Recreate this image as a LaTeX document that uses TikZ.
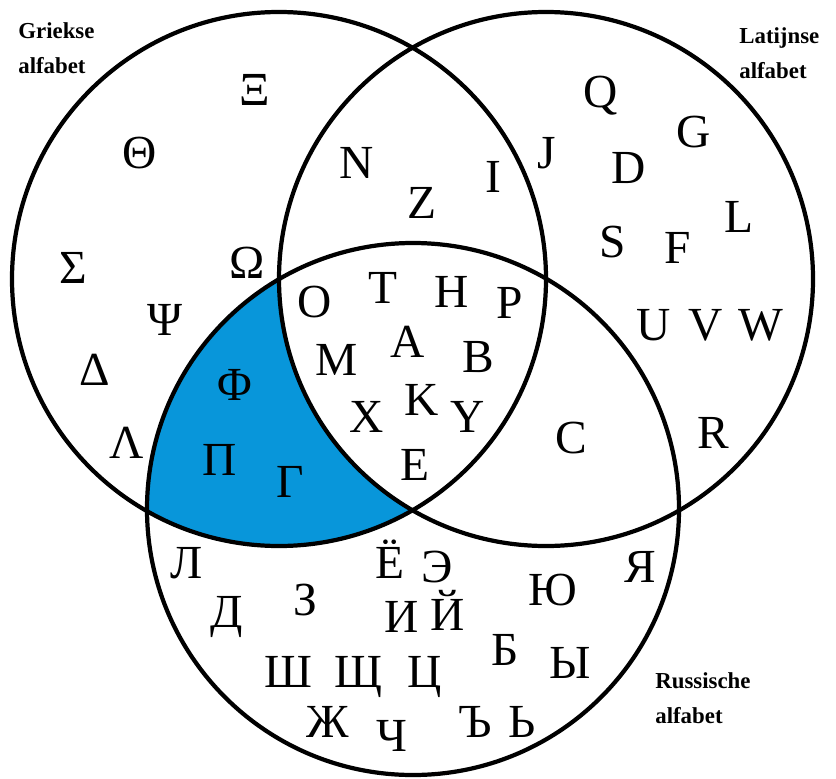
\documentclass[tikz,border=0pt]{standalone}
\usepackage{fontspec}
\setmainfont{Liberation Serif}
\usepackage{tikz}
\usetikzlibrary{positioning}
\definecolor{greekblue}{RGB}{8,150,218}

\begin{document}
\begin{tikzpicture}[
  ltr/.style={inner sep=0pt, text height=17.9pt, text depth=0pt, font=\fontsize{27}{32}\selectfont},
  setname/.style={anchor=north west, inner sep=0pt, align=left, font=\fontsize{13}{20}\selectfont\bfseries},
  ring/.style={line width=2.4pt, black}
]
\useasboundingbox (0,0) rectangle (16.72,-15.56);
\coordinate (grk) at (5.58,-5.58);
\coordinate (lat) at (10.92,-5.58);
\coordinate (rus) at (8.26,-10.18);

% Greek and Russian only
\begin{scope}
  \clip (grk) circle[radius=5.34];
  \clip (rus) circle[radius=5.32];
  \fill[greekblue, even odd rule] (0,0) rectangle (16.72,-15.56) (lat) circle[radius=5.34];
\end{scope}
\draw[ring] (grk) circle[radius=5.34];
\draw[ring] (lat) circle[radius=5.34];
\draw[ring] (rus) circle[radius=5.32];

\node[setname] (grkname) at (0.36,-0.44)   {Griekse\\alfabet};
\node[setname] (latname) at (14.78,-0.54)  {Latijnse\\alfabet};
\node[setname] (rusname) at (13.10,-13.44) {Russische\\alfabet};

% Greek only
\node[ltr] (xi) at (5.10,-1.80) {Ξ};  \node[ltr] (theta) at (2.80,-3.06) {Θ};
\node[ltr] (sigma) at (1.46,-5.36) {Σ}; \node[ltr] (omega) at (4.94,-5.26) {Ω};
\node[ltr] (psi) at (3.30,-6.40) {Ψ};  \node[ltr] (delta) at (1.90,-7.40) {Δ};
\node[ltr] (lambda) at (2.54,-8.86) {Λ};
% Greek and Russian
\node[ltr] (phi) at (4.70,-7.70) {Φ};  \node[ltr] (pi) at (4.40,-9.20) {Π};
\node[ltr] (gamma) at (5.80,-9.64) {Γ};
% Greek and Latin
\node[ltr] (n) at (7.14,-3.26) {N};  \node[ltr] (z) at (8.44,-4.06) {Z};
\node[ltr] (i) at (9.86,-3.54) {I};
% Latin only
\node[ltr] (j) at (10.94,-3.06) {J};  \node[ltr] (q) at (12.02,-1.84) {Q};
\node[ltr] (g) at (13.88,-2.64) {G};  \node[ltr] (d) at (12.58,-3.36) {D};
\node[ltr] (l) at (14.78,-4.34) {L};  \node[ltr] (s) at (12.26,-4.84) {S};
\node[ltr] (f) at (13.56,-4.96) {F};  \node[ltr] (u) at (13.08,-6.50) {U};
\node[ltr] (v) at (14.12,-6.50) {V};  \node[ltr] (w) at (15.22,-6.50) {W};
\node[ltr] (r) at (14.26,-8.66) {R};
% Latin and Russian
\node[ltr] (c) at (11.42,-8.76) {C};
% all three
\node[ltr] (o) at (6.30,-6.04) {O};  \node[ltr] (t) at (7.66,-5.76) {T};
\node[ltr] (h) at (9.04,-5.84) {H};  \node[ltr] (p) at (10.20,-6.06) {P};
\node[ltr] (m) at (6.74,-7.20) {M};  \node[ltr] (a) at (8.16,-6.84) {A};
\node[ltr] (b) at (9.56,-7.14) {B};  \node[ltr] (k) at (8.44,-8.00) {K};
\node[ltr] (x) at (7.34,-8.34) {X};  \node[ltr] (y) at (9.36,-8.34) {Y};
\node[ltr] (e) at (8.30,-9.30) {E};
% Russian only
\node[ltr] (el) at (3.74,-11.26) {Л};   \node[ltr] (yo) at (7.80,-11.26) {Ё};
\node[ltr] (ee) at (8.74,-11.34) {Э};   \node[ltr] (de) at (4.54,-12.24) {Д};
\node[ltr] (ze) at (6.10,-12.00) {З};   \node[ltr] (ii) at (8.04,-12.34) {И};
\node[ltr] (ishort) at (8.96,-12.30) {Й}; \node[ltr] (yu) at (11.06,-11.80) {Ю};
\node[ltr] (ya) at (12.80,-11.34) {Я};  \node[ltr] (sha) at (5.76,-13.44) {Ш};
\node[ltr] (shcha) at (7.16,-13.44) {Щ}; \node[ltr] (tse) at (8.50,-13.44) {Ц};
\node[ltr] (be) at (10.10,-13.00) {Б};  \node[ltr] (yeru) at (11.40,-13.26) {Ы};
\node[ltr] (zhe) at (6.56,-14.44) {Ж};  \node[ltr] (che) at (7.84,-14.72) {Ч};
\node[ltr] (hard) at (9.50,-14.44) {Ъ};  \node[ltr] (soft) at (10.44,-14.44) {Ь};
\end{tikzpicture}
\end{document}
